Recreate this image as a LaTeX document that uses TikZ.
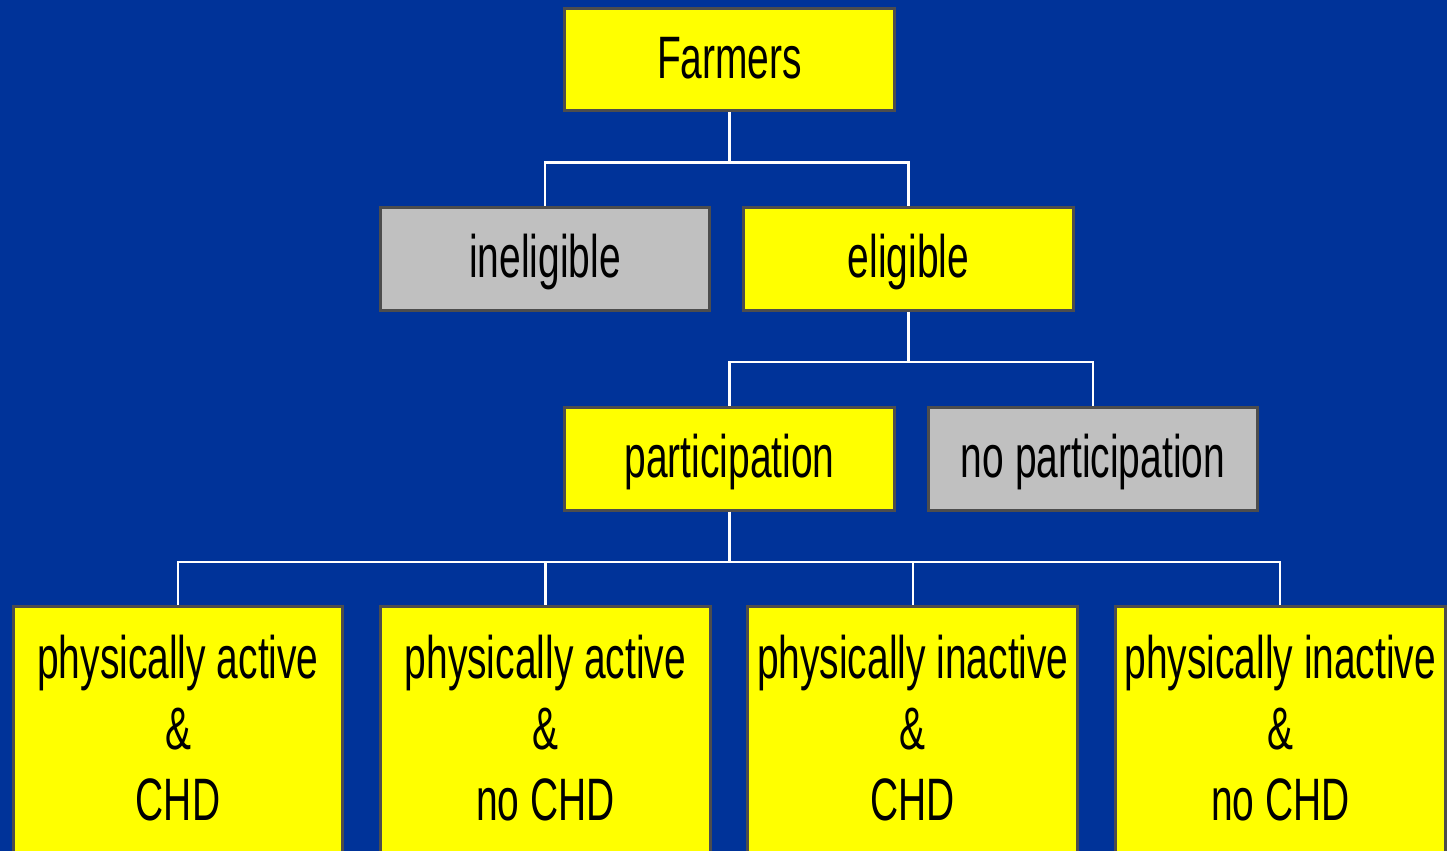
\documentclass[tikz,border=0pt]{standalone}
\usepackage{fontspec}
\setmainfont{Liberation Sans}[FakeStretch=0.65]
\usetikzlibrary{chains, positioning}

\definecolor{slideblue}{HTML}{003399}
\definecolor{boxyellow}{HTML}{FFFF00}
\definecolor{boxgray}{HTML}{C0C0C0}
\definecolor{boxline}{HTML}{4D4D4D}

\newcommand{\leaftext}[1]{\parbox[c][6cm][t]{6.6cm}{\centering #1}}

\begin{document}
\begin{tikzpicture}[
   x = 0.02cm, y = -0.02cm,
   start chain = going right,
   node distance = 0.69cm,
   box/.style = {draw=boxline, line width=0.06cm, inner sep=0pt,
                 font=\fontsize{34.1pt}{40.4pt}\selectfont},
   yesbox/.style = {box, fill=boxyellow, minimum width=6.6cm, minimum height=2.06cm,
                    text height=0.76cm, text depth=0pt},
   nobox/.style = {yesbox, fill=boxgray},
   leaf/.style = {box, fill=boxyellow, inner ysep=0.57cm},
   link/.style = {draw=white, line width=0.045cm}]
   \useasboundingbox (0,0) rectangle (1447,851);
   \fill[slideblue] (0,0) rectangle (1447,851);

   \node[yesbox] (farmers) at (729.5,59.5) {Farmers};
   \node[nobox]  (inel)    at (545,259)    {ineligible};
   \node[yesbox] (elig)    at (908.5,259)  {eligible};
   \node[yesbox] (part)    at (729.5,459)  {participation};
   \node[nobox]  (nopart)  at (1093,459)   {no participation};

   \node[leaf, on chain, anchor=north] (ac) at (178,605) {\leaftext{physically active\\\&\\CHD}};
   \node[leaf, on chain] (anc) {\leaftext{physically active\\\&\\no CHD}};
   \node[leaf, on chain] (ic)  {\leaftext{physically inactive\\\&\\CHD}};
   \node[leaf, on chain] (inc) {\leaftext{physically inactive\\\&\\no CHD}};

   \draw[link] (farmers.south) -- ++(0,50) -| (inel.north);
   \draw[link] (farmers.south) -- ++(0,50) -| (elig.north);

   \draw[link] (elig.south) -- ++(0,50) -| (part.north);
   \draw[link] (elig.south) -- ++(0,50) -| (nopart.north);

   \draw[link] (part.south) -- ++(0,50) -| (ac.north);
   \draw[link] (part.south) -- ++(0,50) -| (anc.north);
   \draw[link] (part.south) -- ++(0,50) -| (ic.north);
   \draw[link] (part.south) -- ++(0,50) -| (inc.north);
\end{tikzpicture}
\end{document}
